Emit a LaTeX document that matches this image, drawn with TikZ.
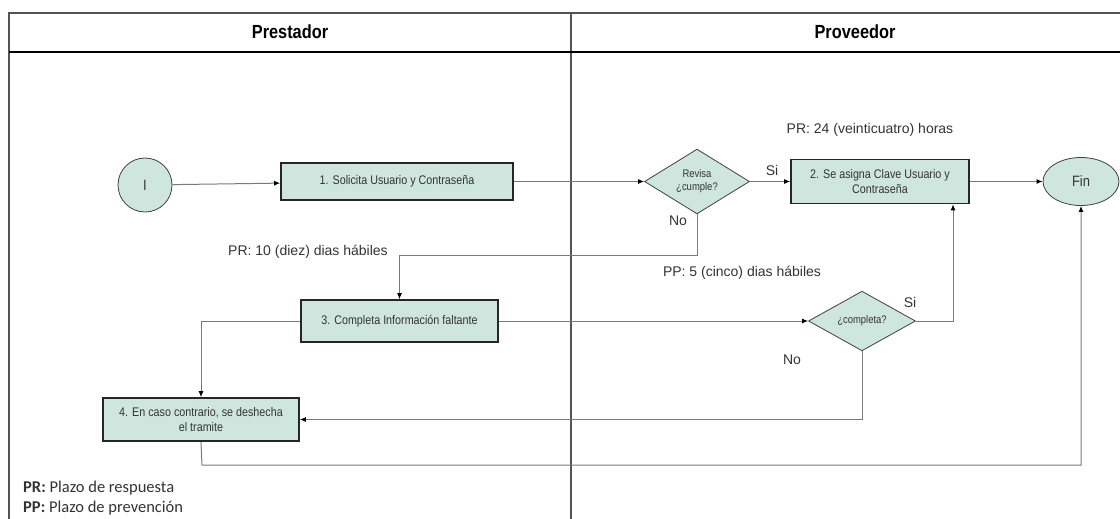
\documentclass[tikz,border=0pt]{standalone}
\usepackage{fontspec}
\setmainfont{Liberation Sans}
\newfontfamily\narrowfont[FakeStretch=0.86]{Liberation Sans}
\newfontfamily\legendfont{Carlito}
\usetikzlibrary{shapes.geometric,arrows.meta}
\definecolor{boxfill}{HTML}{CFE6DE}
\definecolor{linegray}{HTML}{7A7A7A}
\definecolor{framegray}{HTML}{555555}
\tikzset{
  procbox/.style={draw=black!85, line width=1.6pt, fill=boxfill, inner sep=0pt, align=center, font=\narrowfont\fontsize{12.5}{15}\selectfont, text=black!80},
  decbox/.style={diamond, draw=black!75, line width=0.8pt, fill=boxfill, inner sep=0pt, align=center, font=\narrowfont\fontsize{11}{13}\selectfont, text=black!80},
  termnode/.style={ellipse, draw=black!75, line width=0.8pt, fill=boxfill, inner sep=0pt, font=\narrowfont\fontsize{15}{17}\selectfont, text=black!80},
  conn/.style={draw=linegray, line width=1pt, -{Latex[length=6pt,width=5pt,color=black]}},
  lbl/.style={inner sep=0pt, font=\fontsize{14}{16}\selectfont, text=black!80},
  hdr/.style={inner sep=0pt, font=\narrowfont\fontsize{19}{21}\selectfont\bfseries},
  legend/.style={anchor=west, inner sep=0pt, font=\legendfont\fontsize{16.5}{19}\selectfont, text=black!80}
}
\begin{document}
\begin{tikzpicture}[x=1pt,y=-1pt]
\useasboundingbox (0,0) rectangle (1120,519);
% frame
\draw[framegray, line width=2.2pt] (9,519) -- (9,13) -- (1120,13);
\draw[framegray, line width=2.2pt] (571,13) -- (571,519);
\draw[black, line width=1.8pt] (9,52) -- (1120,52);
\node[hdr] (h1) at (290,32) {Prestador};
\node[hdr] (h2) at (855,32) {Proveedor};
% nodes
\node[termnode, circle, minimum size=54pt] (ini) at (145,185) {I};
\node[procbox, minimum width=232pt, minimum height=37pt] (b1) at (397,181.5) {1. Solicita Usuario y Contraseña};
\node[decbox, minimum width=105pt, minimum height=57pt] (d1) at (697,181.5) {Revisa\\¿cumple?};
\node[procbox, minimum width=178pt, minimum height=44pt] (b2) at (880,181.5) {2. Se asigna Clave Usuario y\\Contraseña};
\node[termnode, minimum width=76pt, minimum height=48pt] (fin) at (1081,181.5) {Fin};
\node[procbox, minimum width=197pt, minimum height=42pt] (b3) at (399.5,321) {3. Completa Información faltante};
\node[decbox, minimum width=107pt, minimum height=56pt] (d2) at (862,321) {¿completa?};
\node[procbox, minimum width=196pt, minimum height=43pt] (b4) at (201,419.5) {4. En caso contrario, se deshecha\\el tramite};
% coordinates
\coordinate (c1) at (697,255);
\coordinate (c2) at (953,321);
\coordinate (c3) at (202,465);
% connectors
\draw[conn] (ini) -- (b1);
\draw[conn] (b1) -- (d1);
\draw[conn] (d1) -- (b2);
\draw[conn] (b2) -- (fin);
\draw[conn] (d1.south) -- (c1) -| (b3.north);
\draw[conn] (b3.west) -| (b4.north);
\draw[conn] (b3.east) -- (d2.west);
\draw[conn] (d2.east) -- (c2) -- (c2 |- b2.south);
\draw[conn] (d2.south) |- (b4.east);
\draw[conn] (b4.south) -- (c3) -| (fin.south);
% labels
\node[lbl] (l1) at (870,130) {PR: 24 (veinticuatro) horas};
\node[lbl] (l2) at (772,170) {Si};
\node[lbl] (l3) at (678,221) {No};
\node[lbl] (l4) at (308,252) {PR: 10 (diez) dias hábiles};
\node[lbl] (l5) at (742,273) {PP: 5 (cinco) dias hábiles};
\node[lbl] (l6) at (910,302) {Si};
\node[lbl] (l7) at (792,360) {No};
\node[legend] (g1) at (23,488) {\textbf{PR:} Plazo de respuesta};
\node[legend] (g2) at (23,508) {\textbf{PP:} Plazo de prevención};
\end{tikzpicture}
\end{document}
